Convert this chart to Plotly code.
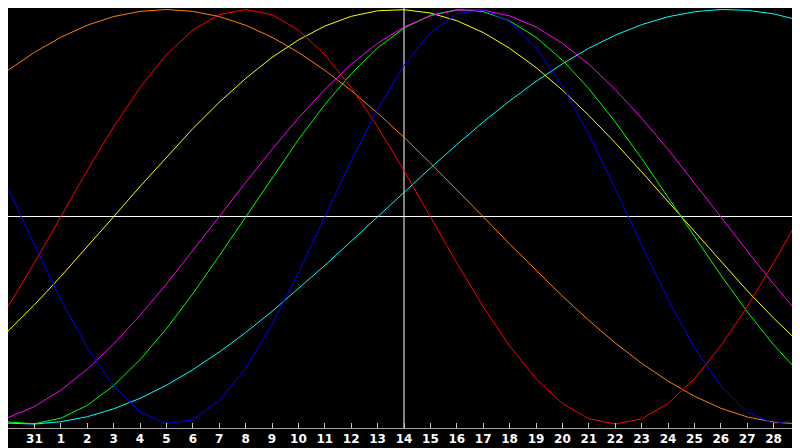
import plotly.graph_objects as go

# day labels under the ticks (30 Jan .. 1 Mar, edge days unlabeled)
day_labels = ["", "31", "1", "2", "3", "4", "5", "6", "7", "8", "9", "10", "11", "12", "13",
              "14", "15", "16", "17", "18", "19", "20", "21", "22", "23", "24", "25", "26",
              "27", "28", ""]
today_index = 15

# cycle values per day
red = [-0.434, -0.223, 0.0, 0.223, 0.434, 0.623, 0.782, 0.901, 0.975, 1.0, 0.975, 0.901,
       0.782, 0.623, 0.434, 0.223, 0.0, -0.223, -0.434, -0.623, -0.782, -0.901, -0.975,
       -1.0, -0.975, -0.901, -0.782, -0.623, -0.434, -0.223, 0.0]
orange = [0.707, 0.793, 0.866, 0.924, 0.966, 0.991, 1.0, 0.991, 0.966, 0.924, 0.866, 0.793,
          0.707, 0.609, 0.5, 0.383, 0.259, 0.131, 0.0, -0.131, -0.259, -0.383, -0.5, -0.609,
          -0.707, -0.793, -0.866, -0.924, -0.966, -0.991, -1.0]
yellow = [-0.552, -0.425, -0.288, -0.146, 0.0, 0.146, 0.288, 0.425, 0.552, 0.667, 0.769,
          0.853, 0.920, 0.967, 0.994, 0.999, 0.983, 0.946, 0.889, 0.813, 0.720, 0.611, 0.489,
          0.357, 0.217, 0.073, -0.073, -0.217, -0.357, -0.489, -0.611]
green = [-0.990, -0.999, -0.972, -0.910, -0.815, -0.690, -0.541, -0.372, -0.189, 0.0, 0.189,
         0.372, 0.541, 0.690, 0.815, 0.910, 0.972, 0.999, 0.990, 0.945, 0.866, 0.756, 0.618,
         0.458, 0.282, 0.095, -0.095, -0.282, -0.458, -0.618, -0.756]
magenta = [-0.969, -0.916, -0.837, -0.736, -0.614, -0.476, -0.325, -0.165, 0.0, 0.165, 0.325,
           0.476, 0.614, 0.736, 0.837, 0.916, 0.969, 0.997, 0.997, 0.969, 0.916, 0.837, 0.736,
           0.614, 0.476, 0.325, 0.165, 0.0, -0.165, -0.325, -0.476]
blue = [0.136, -0.136, -0.398, -0.631, -0.817, -0.942, -0.998, -0.979, -0.888, -0.731, -0.520,
        -0.270, 0.0, 0.270, 0.520, 0.731, 0.888, 0.979, 0.998, 0.942, 0.817, 0.631, 0.398,
        0.136, -0.136, -0.398, -0.631, -0.817, -0.942, -0.998, -0.979]
cyan = [-0.996, -1.0, -0.989, -0.965, -0.927, -0.876, -0.813, -0.738, -0.653, -0.559, -0.457,
        -0.348, -0.235, -0.118, 0.0, 0.118, 0.235, 0.348, 0.457, 0.559, 0.653, 0.738, 0.813,
        0.876, 0.927, 0.965, 0.989, 1.0, 0.996, 0.979, 0.947]

days = list(range(len(day_labels)))

series = [
    (cyan, "#00FFFF"),
    (orange, "#FF8000"),
    (yellow, "#FFFF00"),
    (green, "#00FF00"),
    (magenta, "#FF00FF"),
    (red, "#FF0000"),
    (blue, "#0000FF"),
]

fig = go.Figure()

for vals, col in series:
    fig.add_trace(go.Scatter(x=days, y=vals, mode="lines",
                             line=dict(color=col, width=1),
                             hoverinfo="skip", showlegend=False))

# today marker
fig.add_shape(type="line", x0=today_index, x1=today_index, y0=0, y1=1,
              xref="x", yref="paper", line=dict(color="white", width=1), layer="below")

fig.update_xaxes(
    range=[0, 30], tickvals=days, ticktext=day_labels,
    ticks="inside", ticklen=5, tickcolor="#C8C8C8", tickwidth=1,
    tickfont=dict(family="DejaVu Sans", size=12, color="white", weight="bold"),
    showgrid=False, zeroline=False,
    showline=True, linecolor="#A0A0A0", linewidth=1, mirror=True,
)
fig.update_yaxes(
    range=[-1.0193, 1.0072], showticklabels=False, ticks="",
    showgrid=False, zeroline=True, zerolinecolor="white", zerolinewidth=1,
    showline=True, linecolor="#A0A0A0", linewidth=1, mirror=True,
)

# page body adds 8px around the figure, so the figure is trimmed to fit the window
fig.update_layout(
    width=792, height=440,
    margin=dict(l=0, r=0, t=0, b=20),
    paper_bgcolor="black", plot_bgcolor="black",
)

fig.write_html("out.html")
